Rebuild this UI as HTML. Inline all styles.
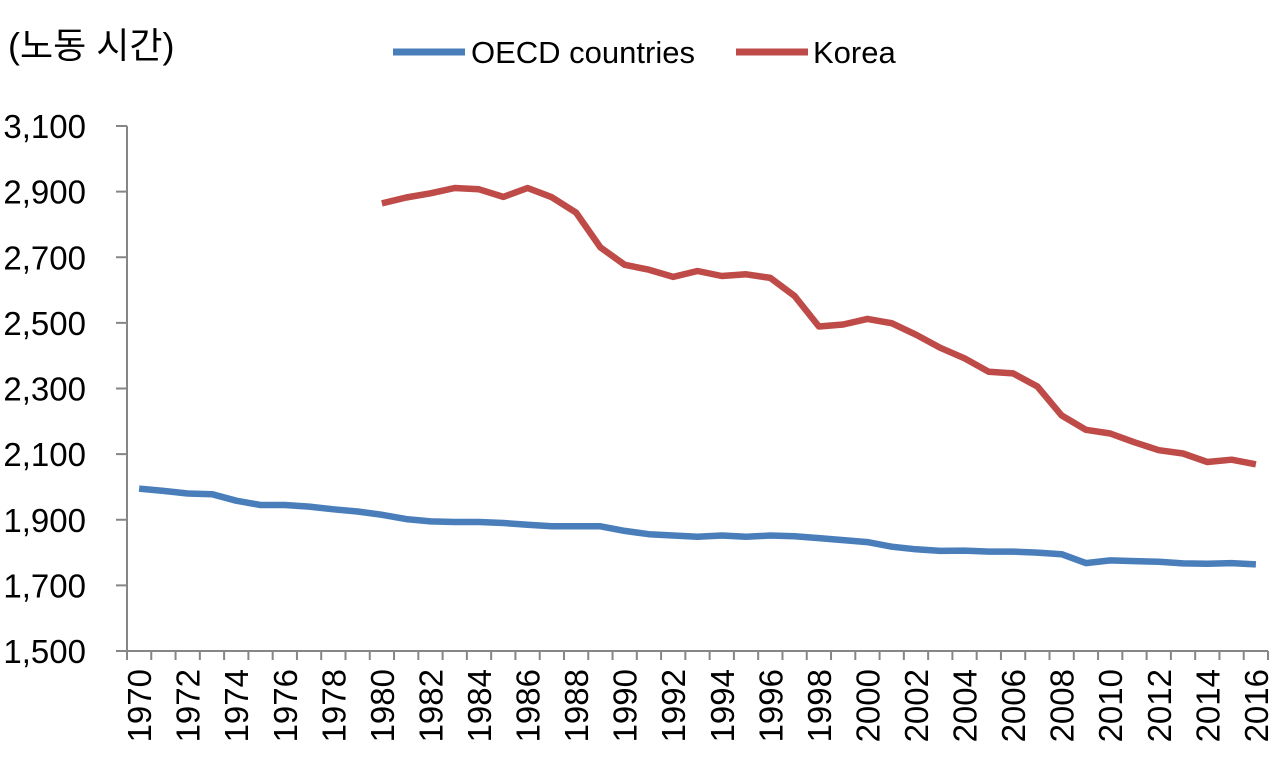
<!DOCTYPE html>
<html><head><meta charset="utf-8"><style>
body{margin:0;background:#fff;}
svg text{font-family:"Liberation Sans","Noto Sans CJK KR",sans-serif;fill:#000;}
</style></head><body>
<svg width="1280" height="768" id="c">
<text x="8" y="58" font-size="36">(노동 시간)</text>
<g>
<line x1="393" y1="52" x2="465" y2="52" stroke="#4a7ebb" stroke-width="7"/>
<text x="471" y="63" font-size="31">OECD countries</text>
<line x1="736" y1="52" x2="808" y2="52" stroke="#be4b48" stroke-width="7"/>
<text x="813" y="63" font-size="31">Korea</text>
</g>
</svg>
<script>
const years=[];for(let y=1970;y<=2016;y++)years.push(y);
const yTicks=[1500,1700,1900,2100,2300,2500,2700,2900,3100];
const oecd=[1995,1988,1980,1978,1958,1945,1945,1940,1932,1925,1915,1902,1895,1893,1893,1890,1885,1880,1880,1880,1866,1856,1852,1848,1852,1848,1852,1850,1844,1838,1832,1818,1810,1805,1806,1803,1803,1800,1795,1768,1776,1774,1772,1767,1766,1768,1764];
const korea=[null,null,null,null,null,null,null,null,null,null,2864,2882,2895,2911,2907,2884,2911,2883,2836,2730,2677,2662,2640,2658,2643,2648,2637,2582,2489,2495,2512,2499,2464,2424,2392,2351,2346,2306,2218,2174,2163,2136,2112,2102,2076,2083,2069];
const svg=document.getElementById('c'),NS='http://www.w3.org/2000/svg';
const X0=127,X1=1268,Y0=651,Y1=126,step=(X1-X0)/years.length;
const xs=i=>X0+step*(i+0.5);
const ys=v=>Y0-(v-1500)/(3100-1500)*(Y0-Y1);
function mk(t,a){const e=document.createElementNS(NS,t);for(const k in a)e.setAttribute(k,a[k]);svg.appendChild(e);return e;}
let ax=mk('path',{d:`M${X0} ${Y1}V${Y0}H${X1}`,stroke:'#868686','stroke-width':2,fill:'none'});


yTicks.forEach(v=>{
 let t=mk('line',{x1:X0-11,x2:X0,y1:ys(v),y2:ys(v),stroke:'#868686','stroke-width':2});
 
 
 let l=mk('text',{x:86,y:ys(v)+12,'font-size':33,'text-anchor':'end'});
 l.textContent=v.toLocaleString('en-US');
 
 
});
for(let i=0;i<=years.length;i++){
 let t=mk('line',{x1:X0+step*i,x2:X0+step*i,y1:Y0,y2:Y0+9,stroke:'#868686','stroke-width':2});
 
 
}
years.forEach((y,i)=>{if(i%2)return;
 let l=mk('text',{x:0,y:0,'font-size':33,'text-anchor':'end',transform:`translate(${xs(i)+12},${Y0+18}) rotate(-90)`});
 l.textContent=y;
 
 
});
function line(d,c,n){let s='';d.forEach((v,i)=>{if(v==null)return;s+=(s?'L':'M')+xs(i).toFixed(1)+' '+ys(v).toFixed(1);});
 let p=mk('path',{d:s,stroke:c,'stroke-width':6.5,fill:'none','stroke-linejoin':'round'});
 
 }
line(oecd,'#4a7ebb','oecd-line');
line(korea,'#be4b48','korea-line');
</script>
</body></html>
